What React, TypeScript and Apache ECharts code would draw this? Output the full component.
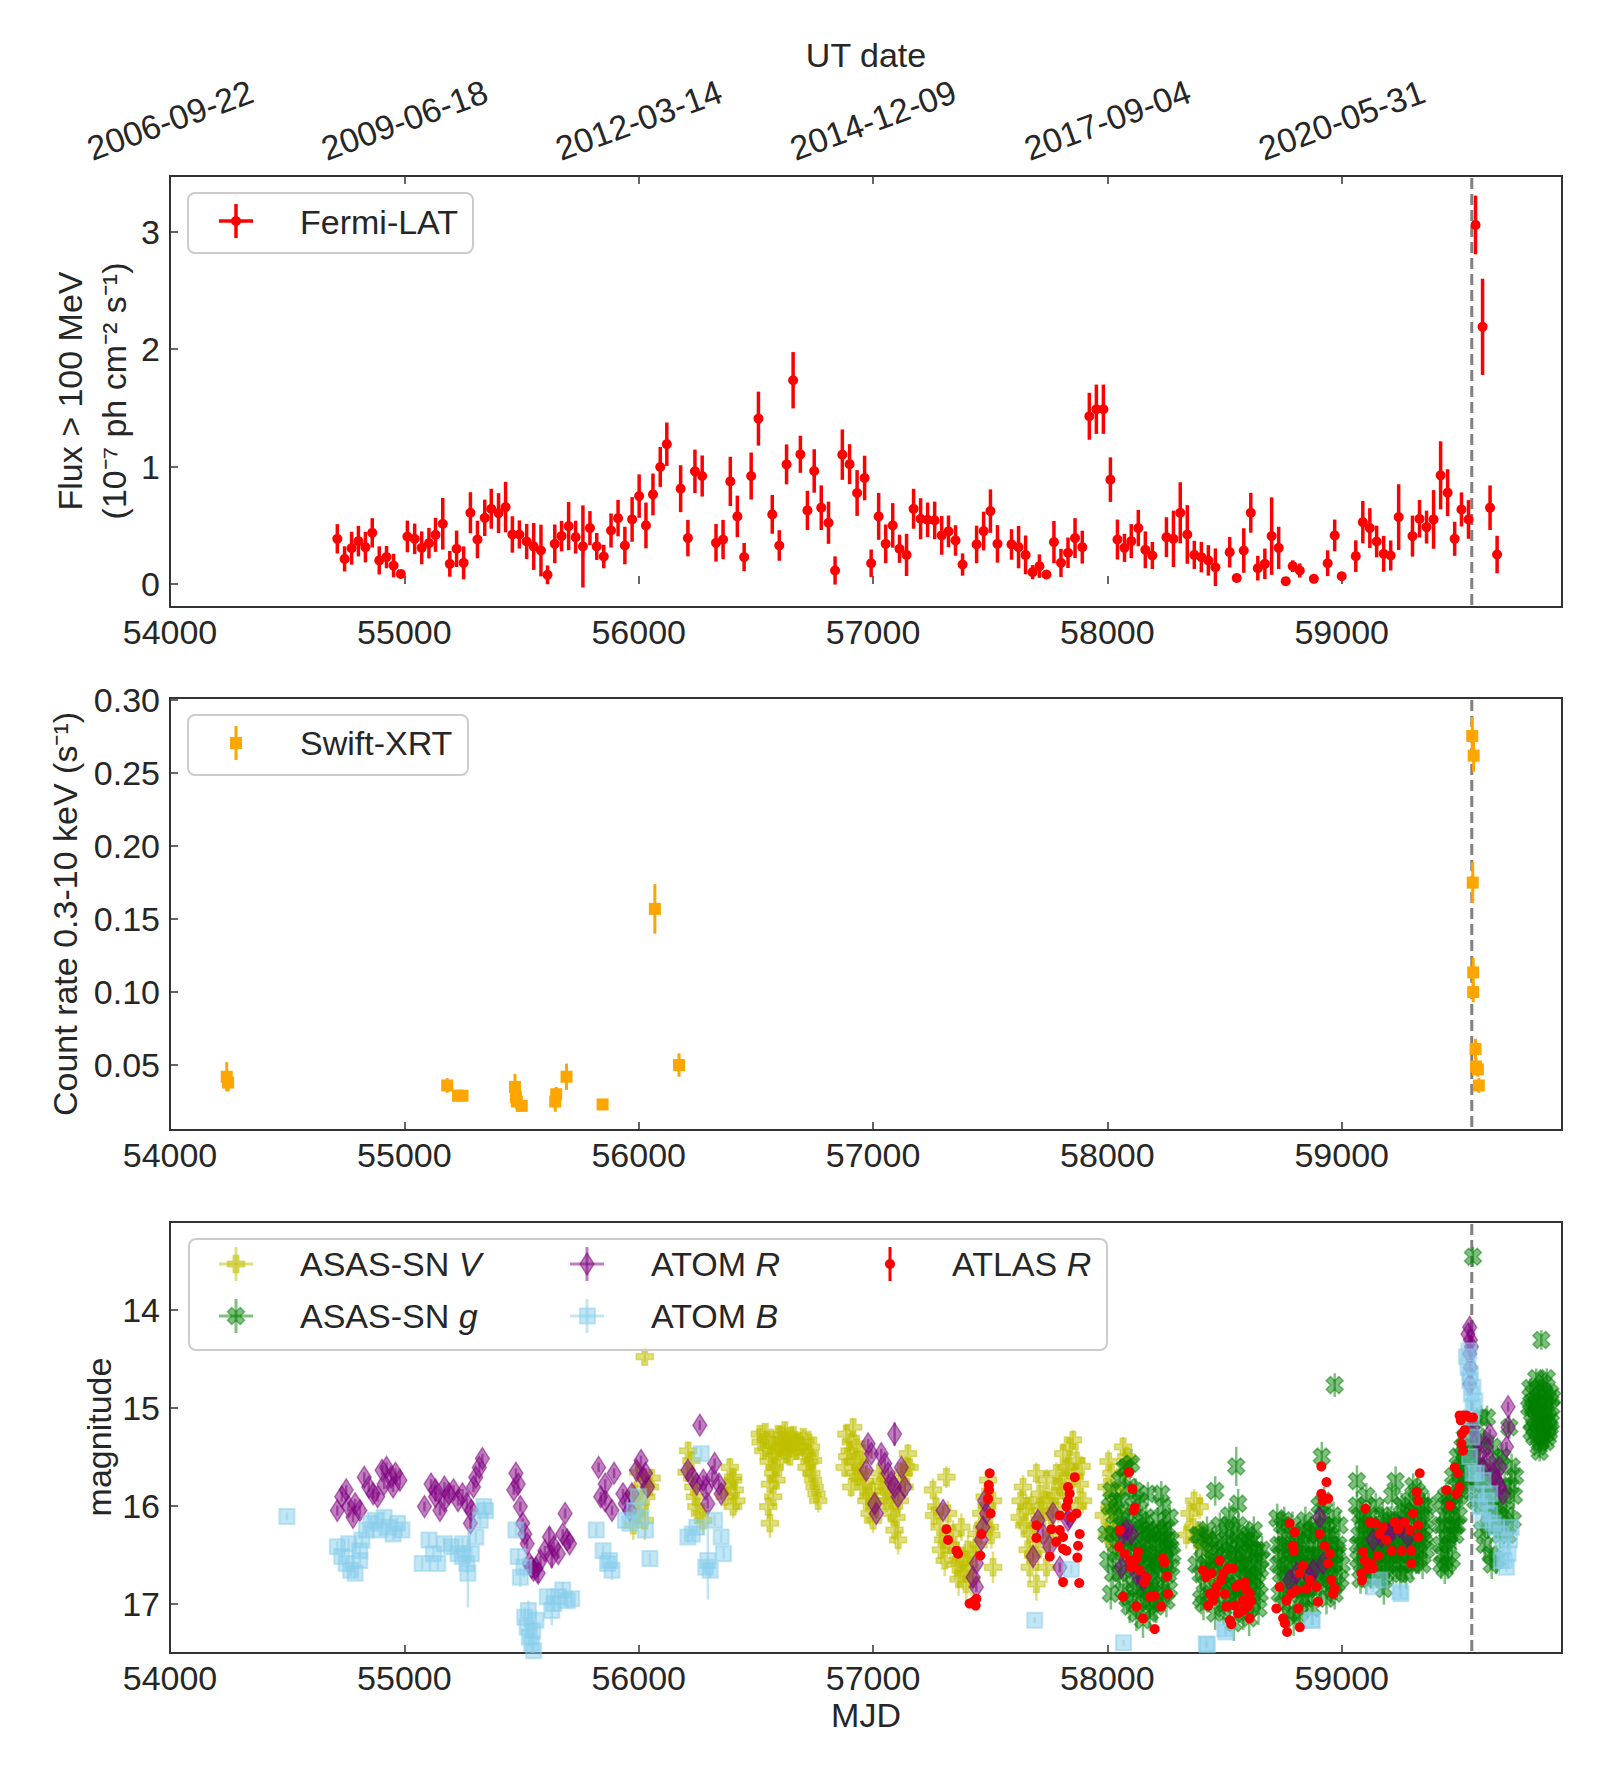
import React, { useEffect, useRef } from 'react';
import * as echarts from 'echarts';

// ---------- axes ----------
const X_MIN = 54000;
const X_MAX = 59940;
const X_TICKS = [54000, 55000, 56000, 57000, 58000, 59000];
const DATE_LABELS = ['2006-09-22', '2009-06-18', '2012-03-14', '2014-12-09', '2017-09-04', '2020-05-31'];
const EVENT_MJD = 59555;

const FERMI_Y_MIN = -0.197;
const FERMI_Y_MAX = 3.475;
const FERMI_Y_TICKS = [0, 1, 2, 3];
const SWIFT_Y_MIN = 0.0055;
const SWIFT_Y_MAX = 0.3015;
const SWIFT_Y_TICKS = [0.05, 0.1, 0.15, 0.2, 0.25, 0.3];
const MAG_MIN = 13.106;
const MAG_MAX = 17.504;
const MAG_TICKS = [14, 15, 16, 17];

// ---------- data: [MJD, value, error] ----------
const FERMI = [
  [54714,0.384,0.125],[54745,0.213,0.107],[54775,0.304,0.14],[54804,0.364,0.13],[54834,0.313,0.13],[54863,0.435,0.125],[54893,0.2,0.12],[54924,0.228,0.095],[54954,0.156,0.1],[54985,0.085,0.02],
  [55013,0.404,0.135],[55044,0.384,0.13],[55074,0.307,0.14],[55105,0.347,0.13],[55133,0.418,0.145],[55164,0.512,0.22],[55194,0.171,0.11],[55223,0.299,0.155],[55253,0.179,0.14],[55282,0.606,0.175],
  [55312,0.378,0.16],[55343,0.563,0.155],[55371,0.64,0.17],[55402,0.603,0.17],[55432,0.654,0.215],[55461,0.421,0.155],[55491,0.421,0.12],[55522,0.361,0.15],[55552,0.319,0.2],[55583,0.284,0.22],
  [55611,0.077,0.08],[55642,0.341,0.165],[55671,0.407,0.13],[55701,0.492,0.205],[55731,0.398,0.14],[55762,0.319,0.35],[55792,0.475,0.145],[55821,0.319,0.115],[55851,0.233,0.1],[55882,0.455,0.145],
  [55912,0.56,0.155],[55941,0.327,0.16],[55972,0.549,0.19],[56002,0.748,0.185],[56031,0.498,0.195],[56061,0.762,0.178],[56092,0.996,0.17],[56120,1.19,0.185],[56179,0.811,0.2],[56210,0.39,0.155],
  [56240,0.959,0.185],[56271,0.919,0.175],[56330,0.35,0.16],[56360,0.378,0.167],[56391,0.873,0.21],[56421,0.575,0.177],[56450,0.228,0.12],[56480,0.919,0.2],[56511,1.408,0.23],[56570,0.592,0.165],
  [56600,0.327,0.13],[56631,1.018,0.17],[56659,1.735,0.24],[56690,1.104,0.158],[56720,0.626,0.167],[56749,0.962,0.185],[56779,0.649,0.19],[56810,0.521,0.18],[56838,0.114,0.12],[56869,1.101,0.215],
  [56900,1.02,0.17],[56932,0.774,0.195],[56964,0.902,0.19],[56992,0.176,0.117],[57024,0.575,0.2],[57054,0.341,0.165],[57084,0.498,0.19],[57113,0.299,0.12],[57143,0.247,0.18],[57173,0.64,0.17],
  [57203,0.555,0.175],[57233,0.546,0.147],[57263,0.541,0.16],[57293,0.413,0.165],[57322,0.447,0.135],[57352,0.37,0.13],[57382,0.165,0.095],[57442,0.336,0.16],[57472,0.45,0.165],[57501,0.62,0.185],
  [57531,0.341,0.16],[57591,0.336,0.13],[57621,0.313,0.18],[57651,0.247,0.165],[57681,0.1,0.06],[57710,0.151,0.1],[57740,0.08,0.03],[57772,0.356,0.18],[57802,0.179,0.12],[57832,0.265,0.13],
  [57862,0.39,0.17],[57893,0.313,0.14],[57923,1.428,0.2],[57953,1.488,0.21],[57983,1.488,0.21],[58013,0.888,0.19],[58043,0.378,0.17],[58073,0.307,0.12],[58102,0.364,0.145],[58132,0.475,0.155],
  [58162,0.29,0.157],[58192,0.242,0.115],[58252,0.398,0.17],[58282,0.384,0.24],[58311,0.606,0.26],[58341,0.421,0.25],[58371,0.247,0.12],[58401,0.228,0.13],[58431,0.2,0.13],[58461,0.142,0.16],
  [58522,0.27,0.13],[58552,0.051,0.02],[58582,0.284,0.19],[58612,0.606,0.17],[58642,0.134,0.105],[58672,0.171,0.13],[58701,0.407,0.33],[58731,0.307,0.18],[58761,0.023,0.02],[58791,0.151,0.05],
  [58821,0.114,0.06],[58881,0.043,0.02],[58940,0.176,0.11],[58970,0.413,0.135],[59000,0.065,0.02],[59060,0.236,0.135],[59090,0.526,0.18],[59120,0.475,0.17],[59149,0.361,0.135],[59179,0.256,0.153],
  [59209,0.242,0.128],[59243,0.569,0.28],[59302,0.407,0.175],[59332,0.555,0.16],[59362,0.484,0.14],[59392,0.549,0.25],[59422,0.925,0.29],[59452,0.777,0.2],[59482,0.384,0.145],[59511,0.634,0.145],
  [59541,0.549,0.165],[59571,3.058,0.25],[59601,2.19,0.41],[59633,0.649,0.19],[59663,0.25,0.16],
];

const SWIFT = [
  [54242,0.042,0.01],[54248,0.038,0.006],[55183,0.036,0.005],[55229,0.029,0.003],[55248,0.029,0.003],[55472,0.035,0.009],[55476,0.028,0.006],[55480,0.025,0.005],
  [55501,0.022,0.003],[55644,0.025,0.007],[55648,0.03,0.005],[55692,0.042,0.009],[55846,0.023,0.002],[56069,0.157,0.017],[56172,0.05,0.008],
  [59557,0.2755,0.013],[59563,0.262,0.011],[59559,0.175,0.014],[59561,0.1135,0.01],[59561,0.1,0.007],[59571,0.061,0.007],[59573,0.049,0.006],[59581,0.047,0.005],[59585,0.036,0.005],
];

const ASASSN_V = [
  [56026,14.48,0.06],
  [55977,16.2,0.15],[55983,15.88,0.12],[55991,16.08,0.14],[55998,15.66,0.1],[56005,16.01,0.12],[56019,15.78,0.11],[56026,16.15,0.2],[56033,15.91,0.12],[56048,15.81,0.1],[56055,15.72,0.1],
  [56204,15.66,0.1],[56211,15.44,0.09],[56225,15.54,0.1],[56233,15.81,0.12],[56240,15.91,0.12],[56246,16.01,0.14],[56261,16.08,0.15],[56275,16.15,0.15],
  [56368,15.91,0.12],[56382,15.81,0.1],[56389,15.61,0.1],[56403,15.71,0.1],[56403,16.01,0.12],[56410,15.84,0.11],[56417,15.95,0.12],[56403,15.74,0.1],
  [56517,15.27,0.08],[56531,15.44,0.09],[56545,15.33,0.08],[56553,16.01,0.12],[56560,15.78,0.1],[56560,16.18,0.15],[56567,15.47,0.09],[56574,15.91,0.12],[56574,15.67,0.1],[56581,15.61,0.1],
  [56588,15.74,0.1],[56595,15.27,0.08],[56602,15.54,0.09],[56609,15.33,0.08],[56617,15.4,0.08],[56624,15.23,0.08],[56631,15.47,0.09],[56638,15.3,0.08],[56645,15.5,0.09],[56652,15.37,0.08],
  [56666,15.33,0.08],[56674,15.44,0.09],
  [56520,15.35,0.08],[56540,15.25,0.08],[56555,15.55,0.09],[56570,15.38,0.08],[56585,15.45,0.09],[56600,15.4,0.08],[56612,15.28,0.08],[56628,15.35,0.08],[56640,15.42,0.08],[56660,15.28,0.08],
  [56678,15.35,0.08],[56690,15.4,0.08],[56710,15.45,0.09],[56728,15.55,0.09],[56735,15.4,0.09],
  [56702,15.3,0.08],[56716,15.61,0.1],[56723,15.33,0.08],[56730,15.47,0.09],[56737,15.67,0.1],[56744,15.54,0.09],[56744,15.74,0.1],[56751,15.81,0.1],[56759,15.88,0.11],[56766,15.95,0.12],
  [56879,15.61,0.1],[56886,15.27,0.09],[56900,15.44,0.09],[56907,15.81,0.1],[56915,15.2,0.09],[56922,15.67,0.1],[56929,15.37,0.09],[56943,15.54,0.1],[56957,15.81,0.11],[56957,15.47,0.1],
  [56971,15.95,0.12],[56986,16.08,0.12],[57000,16.15,0.13],[57014,16.01,0.12],[57028,15.67,0.1],[57043,15.81,0.11],[57057,15.95,0.12],[57078,16.08,0.13],[57092,16.25,0.14],[57100,16.12,0.13],
  [57107,16.35,0.15],[57114,15.95,0.12],[57128,15.67,0.1],[57135,15.81,0.11],[57149,15.47,0.1],[57156,15.61,0.1],
  [56890,15.5,0.1],[56905,15.35,0.1],[56920,15.55,0.1],[56935,15.7,0.1],[56950,15.65,0.1],[56965,15.75,0.11],[56980,15.9,0.11],[56995,15.85,0.11],[57010,15.95,0.12],[57035,15.75,0.11],
  [57065,15.85,0.11],[57085,15.95,0.12],[57120,15.75,0.11],[57140,15.6,0.1],
  [57256,15.84,0.12],[57270,16.01,0.13],[57284,16.22,0.14],[57299,16.35,0.15],[57306,16.56,0.16],[57313,15.71,0.11],[57320,16.08,0.13],[57341,16.29,0.14],[57356,16.46,0.15],[57370,16.59,0.16],
  [57377,16.22,0.14],[57384,16.69,0.17],[57398,16.8,0.18],[57412,16.63,0.16],[57427,16.49,0.15],[57441,16.29,0.14],[57462,16.08,0.13],[57476,15.91,0.12],[57491,15.74,0.11],[57498,16.22,0.14],
  [57512,15.95,0.12],[57512,16.63,0.16],
  [57260,16.1,0.13],[57290,16.45,0.15],[57330,16.4,0.15],[57350,16.6,0.16],[57365,16.75,0.17],[57390,16.55,0.16],[57405,16.45,0.15],[57420,16.75,0.17],[57450,16.4,0.15],[57470,16.2,0.14],
  [57485,16.0,0.13],[57505,16.3,0.14],
  [57626,16.12,0.13],[57640,15.81,0.12],[57654,16.01,0.13],[57669,16.29,0.14],[57669,16.63,0.16],[57683,16.49,0.15],[57697,15.67,0.11],[57697,16.8,0.17],[57711,15.88,0.12],[57725,16.12,0.13],
  [57740,15.74,0.11],[57740,16.63,0.16],[57754,15.95,0.12],[57768,16.29,0.14],[57782,15.67,0.11],[57797,15.81,0.12],[57811,15.47,0.1],[57825,15.61,0.11],[57839,15.4,0.1],[57853,15.33,0.1],
  [57868,15.54,0.11],[57882,15.78,0.12],[57896,15.95,0.13],
  [57630,15.95,0.12],[57645,16.2,0.13],[57660,16.45,0.15],[57675,16.0,0.13],[57690,16.2,0.13],[57705,16.45,0.15],[57715,16.05,0.13],[57730,15.95,0.12],[57745,16.35,0.14],[57760,16.1,0.13],
  [57775,15.9,0.12],[57790,16.05,0.13],[57805,15.75,0.12],[57820,15.85,0.12],[57835,15.6,0.11],[57860,15.7,0.11],[57875,16.0,0.13],[57890,15.6,0.11],
  [57996,15.81,0.12],[58010,16.01,0.13],[58017,15.67,0.12],[58024,16.22,0.14],[58038,16.42,0.15],[58067,15.4,0.1],[58081,15.5,0.11],
  [57985,16.1,0.13],[58000,16.3,0.14],[58005,15.55,0.12],[58030,16.05,0.13],[58045,15.85,0.12],[58075,15.65,0.12],[58090,15.55,0.11],
  [58337,16.3,0.14],[58351,16.08,0.13],[58366,16.22,0.14],[58370,15.95,0.12],[58380,16.35,0.15],[58394,16.01,0.13],[58408,16.29,0.14],[58423,16.42,0.15],[58440,16.6,0.15],[58460,16.75,0.16],
];

const ASASSN_G = [
  [57996,16.29,0.14],[58010,16.01,0.12],[58017,15.85,0.12],[58024,16.29,0.14],[58024,16.69,0.15],[58038,15.95,0.12],[58038,16.49,0.14],[58053,15.74,0.11],[58053,16.69,0.15],[58060,16.2,0.13],
  [58067,16.12,0.13],[58067,16.86,0.16],[58074,15.62,0.2],[58081,15.61,0.11],[58081,16.63,0.15],[58088,16.35,0.14],[58095,15.81,0.12],[58095,17.03,0.17],[58102,15.57,0.15],[58109,16.01,0.12],
  [58109,16.8,0.16],[58117,16.45,0.14],[58124,16.29,0.14],[58124,17.1,0.18],[58131,16.6,0.15],[58138,16.49,0.14],[58138,15.95,0.12],[58145,16.15,0.13],[58152,16.69,0.15],[58152,16.29,0.14],
  [58152,17.17,0.18],[58159,16.5,0.14],[58166,16.9,0.16],[58166,16.12,0.13],[58173,15.88,0.12],[58181,16.97,0.17],[58181,16.49,0.14],[58181,17.1,0.18],[58188,16.3,0.14],[58195,16.8,0.16],
  [58195,16.29,0.14],[58202,16.6,0.15],[58209,16.56,0.15],[58209,17.03,0.17],[58216,16.15,0.13],[58223,16.29,0.14],[58230,15.88,0.13],[58238,16.01,0.12],[58238,16.9,0.16],[58245,16.45,0.14],
  [58252,16.22,0.13],[58252,16.97,0.17],[58259,16.7,0.15],[58266,16.42,0.14],[58266,16.12,0.13],[58273,16.63,0.15],
  [58003,16.55,0.14],[58015,16.9,0.16],[58030,16.1,0.13],[58045,16.35,0.14],[58058,15.95,0.13],[58070,16.45,0.14],[58085,16.95,0.16],[58092,16.15,0.13],[58100,16.4,0.14],[58113,16.65,0.15],
  [58120,15.85,0.13],[58127,16.85,0.16],[58134,16.2,0.13],[58142,16.95,0.16],[58148,16.45,0.14],[58156,16.85,0.16],[58163,16.35,0.14],[58170,16.65,0.15],[58177,16.25,0.14],[58185,16.75,0.15],
  [58192,16.55,0.15],[58198,17.0,0.17],[58205,16.4,0.14],[58212,16.85,0.16],[58220,16.6,0.15],[58227,16.4,0.14],[58234,16.7,0.15],[58242,16.25,0.14],[58249,16.55,0.15],[58256,16.35,0.14],
  [58263,16.85,0.16],[58270,16.35,0.14],[58277,16.5,0.15],
  [58380,16.6,0.15],[58394,16.3,0.14],[58400,16.95,0.16],[58410,17.0,0.17],[58420,16.6,0.15],[58430,16.35,0.14],[58440,16.9,0.16],[58445,16.4,0.14],[58455,16.65,0.15],[58460,17.1,0.17],
  [58460,15.85,0.15],[58470,16.5,0.14],[58480,16.2,0.13],[58490,16.8,0.15],[58490,16.45,0.14],[58500,17.0,0.17],[58505,16.7,0.15],[58510,16.4,0.14],[58515,16.8,0.15],[58520,16.1,0.13],
  [58525,16.95,0.16],[58530,16.7,0.15],[58535,16.25,0.14],[58540,17.2,0.18],[58545,16.55,0.14],[58550,16.5,0.14],[58550,15.6,0.2],[58558,15.98,0.15],[58560,16.2,0.13],[58565,16.6,0.15],
  [58570,16.9,0.16],[58575,16.4,0.14],[58580,17.1,0.17],[58585,16.75,0.15],[58590,16.6,0.15],[58595,16.95,0.16],[58600,16.3,0.14],[58605,17.15,0.18],[58610,16.8,0.15],[58615,16.45,0.14],
  [58620,17.0,0.17],[58625,16.25,0.14],[58630,16.5,0.14],[58635,16.85,0.16],[58640,16.7,0.15],[58650,16.9,0.16],[58655,16.55,0.15],
  [58385,16.3,0.14],[58398,16.7,0.15],[58405,16.45,0.14],[58415,16.8,0.16],[58425,16.25,0.14],[58435,16.65,0.15],[58450,16.55,0.15],[58465,16.35,0.14],[58475,16.85,0.16],[58485,16.6,0.15],
  [58495,17.05,0.17],[58508,16.25,0.14],[58518,16.55,0.15],[58528,16.4,0.14],[58538,16.85,0.16],[58548,16.95,0.16],[58555,16.35,0.14],[58563,16.85,0.16],[58572,16.65,0.15],[58583,16.5,0.15],
  [58592,16.35,0.14],[58598,16.7,0.15],[58612,16.6,0.15],[58618,16.35,0.14],[58628,16.75,0.15],[58638,16.45,0.14],[58645,17.05,0.17],[58652,16.65,0.15],[58660,16.45,0.14],
  [58725,16.13,0.15],[58730,16.4,0.14],[58735,16.9,0.16],[58740,16.7,0.15],[58745,16.2,0.14],[58750,17.0,0.17],[58755,16.15,0.14],[58760,16.3,0.14],[58765,16.75,0.15],[58770,16.6,0.15],
  [58775,17.1,0.17],[58780,16.9,0.16],[58785,16.45,0.14],[58790,16.2,0.14],[58795,17.15,0.18],[58800,16.5,0.14],[58805,16.85,0.15],[58810,16.8,0.15],[58815,16.35,0.14],[58820,17.1,0.17],
  [58825,16.6,0.15],[58830,16.4,0.14],[58835,16.95,0.16],[58840,16.7,0.15],[58845,16.15,0.14],[58850,16.95,0.16],[58855,16.5,0.14],[58860,16.3,0.14],[58865,16.75,0.15],[58870,16.6,0.15],
  [58875,17.05,0.17],[58880,16.85,0.16],[58885,16.4,0.14],[58890,16.2,0.14],[58895,16.65,0.15],[58900,16.5,0.14],[58905,16.0,0.14],[58910,16.8,0.15],[58915,15.5,0.15],[58920,16.1,0.14],
  [58925,15.95,0.14],[58930,16.4,0.14],[58935,16.95,0.16],[58940,16.7,0.15],[58945,16.25,0.14],[58950,16.3,0.14],[58955,16.85,0.15],[58960,16.6,0.15],[58965,16.1,0.14],[58970,16.9,0.16],
  [58970,14.77,0.12],[58975,16.5,0.15],[58980,16.45,0.14],[58990,16.2,0.14],[59000,16.6,0.15],
  [58728,16.6,0.15],[58738,16.5,0.14],[58748,16.4,0.14],[58758,16.65,0.15],[58768,16.85,0.16],[58778,16.45,0.14],[58788,16.7,0.15],[58798,16.35,0.14],[58808,16.55,0.15],[58818,16.5,0.14],
  [58828,16.85,0.16],[58838,16.25,0.14],[58848,16.55,0.15],[58858,16.85,0.16],[58868,16.25,0.14],[58878,16.5,0.14],[58888,16.65,0.15],[58898,16.3,0.14],[58908,16.55,0.15],[58918,16.7,0.15],
  [58928,16.2,0.14],[58938,16.55,0.15],[58948,16.75,0.15],[58958,16.4,0.14],[58968,16.6,0.15],[58978,16.8,0.16],[58985,16.4,0.14],[58995,16.75,0.15],
  [59065,16.0,0.14],[59065,15.75,0.16],[59070,16.55,0.15],[59075,16.3,0.14],[59080,16.75,0.15],[59085,16.6,0.15],[59090,16.15,0.14],[59095,16.2,0.14],[59100,16.45,0.14],[59105,15.9,0.13],
  [59105,16.75,0.15],[59110,16.35,0.14],[59115,16.5,0.14],[59120,16.1,0.14],[59125,16.7,0.15],[59130,16.45,0.14],[59135,16.3,0.14],[59140,16.6,0.15],[59145,16.0,0.13],[59150,16.45,0.14],
  [59155,16.6,0.15],[59160,16.2,0.14],[59165,16.4,0.14],[59170,16.75,0.15],[59175,16.1,0.14],[59180,16.85,0.16],[59185,16.7,0.15],[59190,16.35,0.14],[59195,16.3,0.14],[59200,16.6,0.15],
  [59205,16.5,0.14],[59210,16.15,0.14],[59215,15.9,0.13],[59220,16.45,0.14],[59225,16.2,0.14],[59230,15.75,0.15],[59235,16.6,0.15],[59240,16.3,0.14],[59245,16.4,0.14],[59250,16.7,0.15],
  [59255,16.0,0.13],[59260,16.5,0.14],[59265,16.3,0.14],[59270,16.05,0.14],[59275,16.7,0.15],[59280,16.4,0.14],[59285,16.5,0.14],[59290,15.95,0.13],[59295,16.1,0.14],[59300,16.6,0.15],
  [59305,15.8,0.13],[59310,16.3,0.14],[59315,16.4,0.14],[59320,15.85,0.13],[59325,16.2,0.14],[59330,16.55,0.15],[59335,15.9,0.13],[59340,16.25,0.14],[59345,16.6,0.15],[59350,16.0,0.13],
  [59355,16.3,0.14],[59360,16.45,0.14],[59370,16.0,0.13],
  [59068,16.4,0.14],[59078,16.1,0.14],[59088,16.4,0.14],[59098,16.6,0.15],[59108,16.2,0.14],[59118,16.65,0.15],[59128,16.25,0.14],[59138,16.5,0.14],[59148,16.25,0.14],[59158,16.45,0.14],
  [59168,16.55,0.15],[59178,16.35,0.14],[59188,16.5,0.14],[59198,16.15,0.14],[59208,16.4,0.14],[59218,16.65,0.15],[59228,16.45,0.14],[59238,16.15,0.14],[59248,16.5,0.14],[59258,16.25,0.14],
  [59268,16.6,0.15],[59278,16.2,0.14],[59288,16.35,0.14],[59298,16.45,0.14],[59308,16.05,0.14],[59318,16.55,0.15],[59328,16.4,0.14],[59338,16.1,0.14],[59348,16.35,0.14],[59358,16.15,0.14],
  [59420,16.2,0.14],[59425,16.6,0.15],[59430,15.95,0.14],[59435,16.2,0.14],[59440,16.65,0.15],[59445,15.9,0.13],[59450,16.35,0.14],[59455,16.4,0.14],[59460,16.0,0.14],[59465,16.0,0.13],
  [59470,16.55,0.15],[59475,15.7,0.13],[59480,16.2,0.14],[59485,16.3,0.14],[59490,15.8,0.13],[59495,15.5,0.12],[59500,16.1,0.14],[59505,15.9,0.13],[59510,15.6,0.13],[59515,15.4,0.12],
  [59520,15.75,0.13],[59525,15.3,0.12],[59530,15.7,0.13],
  [59422,16.4,0.14],[59432,16.5,0.14],[59442,16.1,0.14],[59452,16.6,0.15],[59462,16.3,0.14],[59472,16.15,0.14],[59482,15.95,0.13],[59492,16.2,0.14],[59502,15.65,0.13],[59512,15.85,0.13],
  [59522,15.55,0.13],[59532,15.45,0.12],
  [59560,13.46,0.1],
  [59550,15.2,0.12],[59565,15.5,0.13],[59575,15.8,0.13],[59585,15.3,0.12],[59595,15.1,0.12],[59600,16.0,0.14],[59605,15.6,0.13],[59610,16.4,0.15],[59615,15.9,0.13],[59620,15.1,0.12],
  [59625,16.2,0.14],[59635,16.5,0.15],[59640,16.6,0.15],[59645,15.4,0.12],[59655,15.7,0.13],[59660,16.55,0.15],[59665,16.0,0.14],[59675,16.3,0.14],[59685,15.5,0.13],[59695,15.8,0.13],
  [59705,16.1,0.14],[59715,15.2,0.12],[59725,15.6,0.13],[59735,15.9,0.13],
  [59555,15.4,0.12],[59570,15.95,0.13],[59580,15.6,0.13],[59590,15.75,0.13],[59598,16.25,0.14],[59608,15.35,0.12],[59618,15.7,0.13],[59628,15.85,0.13],[59638,16.05,0.14],[59648,15.9,0.13],
  [59658,16.2,0.14],[59668,15.55,0.13],[59678,16.1,0.14],[59690,16.2,0.14],[59700,15.95,0.13],[59710,16.3,0.14],[59720,15.8,0.13],[59730,16.15,0.14],[59740,15.7,0.13],
  [59805,14.8,0.1],[59810,15.25,0.1],[59815,15.0,0.1],[59820,15.1,0.1],[59825,15.2,0.1],[59830,14.7,0.1],[59835,14.9,0.1],[59840,15.4,0.1],[59845,15.1,0.1],[59850,15.35,0.1],
  [59852,14.31,0.1],[59855,15.3,0.1],[59860,14.75,0.1],[59865,14.85,0.1],[59870,15.15,0.1],[59875,15.05,0.1],[59880,15.3,0.1],[59885,15.25,0.1],[59890,14.85,0.1],[59895,15.0,0.1],
  [59800,15.0,0.1],[59808,14.95,0.1],[59812,15.15,0.1],[59818,14.85,0.1],[59822,15.3,0.1],[59828,14.95,0.1],[59833,15.25,0.1],[59838,15.05,0.1],[59842,14.8,0.1],[59848,14.95,0.1],
  [59853,15.15,0.1],[59858,15.05,0.1],[59862,15.25,0.1],[59868,14.95,0.1],[59872,15.35,0.1],[59878,14.9,0.1],[59883,15.1,0.1],[59888,15.2,0.1],[59893,15.15,0.1],[59898,14.9,0.1],
  [59845,15.45,0.1],[59875,14.7,0.1],
];

const ATOM_R = [
  [54714,16.05,0.05],[54733,15.91,0.05],[54752,15.84,0.05],[54762,16.01,0.05],[54781,16.12,0.05],[54790,15.98,0.05],[54810,16.05,0.05],[54829,15.71,0.05],[54848,15.81,0.05],[54867,15.88,0.05],
  [54886,15.91,0.05],[54905,15.64,0.05],[54914,15.78,0.05],[54924,15.61,0.05],[54943,15.71,0.05],[54952,15.81,0.05],[54962,15.67,0.05],[54981,15.74,0.05],
  [55086,16.01,0.05],[55114,15.78,0.05],[55133,15.91,0.05],[55133,15.84,0.05],[55152,16.05,0.05],[55171,15.81,0.05],[55171,15.95,0.05],[55190,15.88,0.05],[55210,15.84,0.05],[55229,15.95,0.05],
  [55248,15.88,0.05],[55267,15.98,0.05],[55282,16.18,0.06],[55286,16.05,0.05],[55295,15.81,0.05],[55305,15.71,0.05],[55320,15.61,0.05],[55333,15.52,0.05],
  [55467,15.84,0.05],[55476,15.67,0.05],[55486,15.78,0.05],[55495,16.01,0.05],[55505,16.18,0.05],[55514,16.29,0.05],[55524,16.39,0.05],[55533,16.59,0.05],[55543,16.63,0.05],[55552,16.66,0.08],
  [55562,16.64,0.05],[55571,16.69,0.1],[55581,16.56,0.05],[55600,16.46,0.05],[55619,16.32,0.1],[55629,16.52,0.12],[55638,16.42,0.05],[55657,16.49,0.05],[55676,16.29,0.05],[55686,16.08,0.05],
  [55695,16.35,0.05],[55705,16.39,0.05],
  [55829,15.61,0.05],[55838,15.91,0.05],[55857,15.78,0.05],[55857,15.95,0.05],[55886,16.05,0.05],[55895,15.67,0.05],[55933,15.88,0.05],[55943,15.98,0.05],[55962,16.05,0.05],[55971,15.88,0.05],
  [55991,15.64,0.05],[56010,15.54,0.05],[56019,15.71,0.05],[56029,15.67,0.05],[56038,15.81,0.05],
  [56210,15.64,0.05],[56229,15.71,0.05],[56248,15.78,0.05],[56261,15.18,0.05],[56276,15.74,0.05],[56286,15.83,0.05],[56295,15.98,0.05],[56314,15.71,0.05],[56324,15.57,0.05],[56343,15.78,0.05],
  [56352,15.88,0.05],
  [56971,15.64,0.05],[56979,15.37,0.05],[56993,15.47,0.05],[57007,15.98,0.05],[57014,16.08,0.05],[57035,15.47,0.05],[57050,15.57,0.05],[57064,15.67,0.05],[57078,15.76,0.05],[57092,15.81,0.05],
  [57092,15.27,0.12],[57107,15.91,0.05],[57121,15.61,0.05],[57135,15.81,0.05],
  [57299,16.05,0.05],[57427,16.73,0.05],[57441,16.59,0.05],[57441,16.83,0.05],[57462,16.35,0.05],[57469,16.22,0.05],[57476,15.95,0.05],[57484,16.08,0.05],
  [57683,16.52,0.05],[57704,16.15,0.05],[57725,16.29,0.05],[57754,16.42,0.05],[57768,16.08,0.05],[57797,16.63,0.05],[57832,16.15,0.05],[57839,16.12,0.05],
  [58060,16.63,0.05],[58067,16.29,0.05],[58081,16.25,0.05],[58102,16.29,0.05],[58124,16.69,0.05],[58152,16.76,0.05],
  [58778,16.76,0.05],[58807,16.69,0.05],[58863,16.73,0.05],[58878,16.66,0.05],[58906,16.12,0.05],[58920,16.59,0.05],
  [59134,16.35,0.05],[59169,16.32,0.05],[59198,16.29,0.05],[59219,16.25,0.05],[59248,16.22,0.05],[59283,16.32,0.05],
  [59539,14.25,0.05],[59546,14.18,0.05],[59549,14.31,0.05],[59553,14.38,0.05],[59546,14.45,0.05],[59549,14.59,0.05],[59546,14.76,0.05],[59560,15.2,0.05],[59575,15.33,0.05],[59589,15.47,0.05],
  [59603,15.61,0.05],[59617,15.4,0.05],[59632,15.54,0.05],[59632,15.27,0.05],[59646,15.67,0.05],[59660,15.74,0.05],[59674,15.61,0.05],[59674,15.81,0.05],[59688,15.88,0.05],[59703,15.4,0.05],
  [59710,14.99,0.05],[59710,15.2,0.05],
];

const ATOM_B = [
  [54499,16.11,0.04],
  [54714,16.42,0.06],[54733,16.52,0.06],[54752,16.59,0.06],[54762,16.39,0.06],[54771,16.66,0.06],[54790,16.69,0.06],[54810,16.46,0.06],[54810,16.56,0.06],[54819,16.35,0.06],[54838,16.25,0.06],
  [54857,16.18,0.06],[54876,16.15,0.06],[54895,16.25,0.06],[54914,16.12,0.06],[54933,16.22,0.06],[54952,16.29,0.06],[54971,16.18,0.06],[54990,16.25,0.06],
  [55076,16.59,0.06],[55105,16.35,0.06],[55124,16.49,0.06],[55143,16.59,0.06],[55171,16.39,0.06],[55200,16.42,0.06],[55229,16.49,0.06],[55248,16.39,0.06],[55248,16.52,0.06],[55267,16.59,0.1],
  [55271,16.69,0.35],[55286,16.49,0.08],[55305,16.32,0.06],[55324,16.15,0.06],[55339,16.01,0.06],[55347,16.05,0.06],
  [55476,16.25,0.06],[55486,16.52,0.08],[55495,16.73,0.1],[55510,16.63,0.1],
  [55514,17.14,0.1],[55524,17.24,0.1],[55529,17.07,0.1],[55533,17.34,0.1],[55543,17.41,0.1],[55548,17.28,0.1],[55552,17.48,0.1],[55562,17.17,0.1],
  [55610,16.93,0.08],[55629,17.07,0.15],[55638,17.0,0.08],[55657,16.93,0.08],[55676,16.86,0.08],[55695,16.97,0.08],[55714,16.95,0.08],
  [55819,16.25,0.06],[55848,16.46,0.06],[55867,16.59,0.06],[55876,16.56,0.06],[55886,16.66,0.1],
  [55943,16.15,0.06],[55962,16.18,0.06],[55981,16.05,0.06],[56000,15.91,0.06],[56010,16.12,0.06],[56029,16.25,0.06],[56048,16.54,0.06],
  [56210,16.32,0.06],[56229,16.29,0.06],[56248,16.22,0.06],[56267,15.47,0.06],[56286,16.63,0.06],[56295,16.56,0.4],[56305,16.66,0.08],[56324,16.15,0.06],[56352,16.32,0.06],[56362,16.49,0.06],
  [57690,17.17,0.03],[57846,16.65,0.05],[58069,17.4,0.03],[58422,17.41,0.05],[58427,17.42,0.03],[58501,17.26,0.05],[58506,17.29,0.05],[58871,17.17,0.05],[58875,17.17,0.05],
  [59134,16.83,0.05],[59163,16.76,0.05],[59248,16.88,0.05],[59253,16.9,0.05],
  [59532,14.48,0.05],[59539,14.59,0.05],[59543,14.42,0.05],[59546,14.72,0.05],[59549,14.65,0.05],[59553,14.86,0.05],[59560,14.99,0.05],[59560,14.79,0.05],[59568,14.93,0.05],
  [59553,15.1,0.05],[59556,15.3,0.05],
  [59546,15.5,0.05],[59560,15.67,0.05],[59575,15.88,0.05],[59575,15.67,0.05],[59589,16.01,0.05],[59603,16.15,0.05],[59603,15.74,0.05],[59617,15.95,0.05],[59632,16.08,0.05],[59632,15.88,0.05],
  [59646,16.18,0.05],[59660,16.22,0.05],[59681,16.29,0.05],[59681,16.56,0.05],[59688,16.42,0.05],[59695,16.56,0.05],[59703,16.63,0.05],[59710,16.49,0.05],[59717,16.35,0.05],[59724,16.22,0.05],
];

const ATLAS_R = [
  [57313,16.24,0.03],[57320,16.35,0.03],[57356,16.46,0.03],[57363,16.49,0.03],[57412,17.0,0.04],[57429,16.98,0.04],[57438,17.02,0.04],[57441,16.95,0.04],[57458,16.51,0.03],[57462,16.29,0.03],
  [57491,15.93,0.03],[57494,15.79,0.03],[57495,15.84,0.03],[57498,15.67,0.03],[57502,16.08,0.03],
  [57697,16.2,0.03],[57697,16.33,0.03],[57754,16.52,0.03],[57761,16.24,0.03],[57782,16.37,0.03],[57797,16.25,0.03],[57797,16.1,0.03],[57811,16.32,0.03],[57811,16.44,0.03],[57811,16.78,0.04],
  [57825,16.01,0.03],[57825,16.46,0.03],[57832,15.81,0.03],[57839,15.88,0.03],[57832,15.95,0.03],[57846,16.12,0.03],[57861,15.71,0.03],[57868,16.08,0.03],[57872,16.53,0.03],[57875,16.41,0.03],
  [57882,16.29,0.03],[57880,16.79,0.04],
  [58050,16.42,0.03],[58053,16.25,0.03],[58067,16.93,0.04],[58074,16.49,0.03],[58092,15.66,0.03],[58095,16.56,0.03],[58102,16.63,0.03],[58107,15.83,0.03],[58109,16.59,0.03],[58112,16.05,0.03],
  [58117,16.02,0.03],[58124,17.03,0.04],[58124,16.54,0.03],[58131,16.47,0.03],[58138,16.66,0.03],[58152,17.15,0.04],[58159,16.78,0.04],[58166,16.73,0.03],[58181,16.93,0.04],[58202,16.92,0.04],
  [58202,17.26,0.04],[58230,17.03,0.04],[58238,16.54,0.03],[58245,16.58,0.03],[58255,16.72,0.03],[58259,16.9,0.04],
  [58408,16.66,0.03],[58422,16.73,0.03],[58430,17.02,0.04],[58437,16.9,0.04],[58444,16.69,0.03],[58451,16.97,0.04],[58458,16.9,0.04],[58465,16.83,0.03],[58479,16.56,0.03],[58486,16.76,0.03],
  [58494,16.69,0.03],[58501,16.9,0.04],[58508,17.03,0.04],[58515,16.64,0.03],[58522,17.17,0.04],[58529,17.21,0.04],[58536,16.64,0.03],[58543,17.02,0.04],[58550,16.83,0.03],[58558,17.1,0.04],
  [58565,16.8,0.03],[58579,16.97,0.04],[58579,17.07,0.04],[58586,16.78,0.03],[58593,16.86,0.04],[58600,17.03,0.04],[58607,16.9,0.04],[58607,17.15,0.04],[58614,16.97,0.04],
  [58721,17.05,0.04],[58735,16.83,0.03],[58750,17.15,0.04],[58757,17.2,0.04],[58764,16.97,0.04],[58767,17.29,0.04],[58778,16.18,0.03],[58785,16.9,0.04],[58792,16.41,0.03],[58795,16.46,0.03],
  [58799,16.27,0.03],[58807,16.86,0.04],[58814,17.05,0.04],[58821,16.69,0.03],[58821,17.24,0.04],[58835,16.61,0.03],[58849,16.85,0.04],[58863,16.76,0.03],[58892,16.83,0.03],[58899,16.98,0.04],
  [58906,16.29,0.03],[58913,15.6,0.03],[58913,15.88,0.03],[58920,15.95,0.03],[58927,16.41,0.03],[58935,15.76,0.03],[58942,15.93,0.03],[58942,16.59,0.03],[58949,16.49,0.03],[58956,16.76,0.03],
  [58963,16.9,0.04],[58970,16.85,0.04],
  [59084,16.69,0.03],[59087,16.76,0.03],[59091,16.47,0.03],[59098,16.56,0.03],[59101,16.03,0.03],[59112,16.64,0.03],[59119,16.17,0.03],[59127,16.59,0.03],[59134,16.64,0.03],[59141,16.18,0.03],
  [59155,16.51,0.03],[59162,16.29,0.03],[59176,16.22,0.03],[59191,16.35,0.03],[59212,16.46,0.03],[59226,16.17,0.03],[59240,16.24,0.03],[59255,16.46,0.03],[59269,16.17,0.03],[59290,16.25,0.03],
  [59297,16.46,0.03],[59297,16.59,0.03],[59304,16.08,0.03],[59319,15.86,0.03],[59326,16.2,0.03],[59326,15.95,0.03],[59326,16.32,0.03],[59333,15.67,0.03],
  [59447,15.84,0.03],[59461,16.0,0.03],[59482,15.61,0.03],[59489,15.88,0.03],[59496,15.67,0.03],[59503,15.81,0.03],[59503,15.08,0.03],[59508,15.13,0.03],[59511,15.37,0.03],[59513,15.27,0.03],
  [59518,15.44,0.03],[59518,15.08,0.03],[59525,15.23,0.03],[59532,15.08,0.03],[59546,15.1,0.03],[59560,15.1,0.03],
];

// ---------- styling ----------
const FONT = "'Liberation Sans', Arial, Helvetica, sans-serif";
const TXT = '#262626';
const FS = 34;
const AXC = '#333333';

const C_RED = '#ff0000';
const C_ORANGE = '#ffa500';
const C_OLIVE = 'rgba(191,191,0,0.5)';
const C_GREEN = 'rgba(0,128,0,0.5)';
const C_PURPLE = 'rgba(128,0,128,0.5)';
const C_SKY = 'rgba(135,206,235,0.5)';

const PLUS_PATH = 'path://M3,0H6V3H9V6H6V9H3V6H0V3H3Z';
const X_PATH = 'path://M7.5,0L10,2.5L7.5,5L10,7.5L7.5,10L5,7.5L2.5,10L0,7.5L2.5,5L0,2.5L2.5,0L5,2.5Z';

function errBars(data: number[][], xi: number, yi: number, color: string, width: number) {
  return {
    type: 'custom', xAxisIndex: xi, yAxisIndex: yi, silent: true, clip: true,
    data, encode: { x: 0, y: 1 },
    renderItem: (params: any, api: any) => {
      const x = api.value(0), y = api.value(1), e = api.value(2);
      const a = api.coord([x, y - e]);
      const b = api.coord([x, y + e]);
      return { type: 'line', shape: { x1: a[0], y1: a[1], x2: b[0], y2: b[1] }, style: { stroke: color, lineWidth: width } };
    },
  };
}

function markers(data: number[][], xi: number, yi: number, symbol: string, size: any, fill: string, stroke: string, bw: number) {
  return {
    type: 'scatter', xAxisIndex: xi, yAxisIndex: yi, silent: true, clip: true,
    data: data.map((d) => [d[0], d[1]]),
    symbol, symbolSize: size,
    itemStyle: { color: fill, borderColor: stroke, borderWidth: bw, opacity: 1 },
    emphasis: { disabled: true },
  };
}

function eventLine(xi: number, yi: number, yMid: number) {
  return {
    type: 'custom', xAxisIndex: xi, yAxisIndex: yi, silent: true,
    data: [[EVENT_MJD, yMid]], encode: { x: 0, y: 1 },
    renderItem: (params: any, api: any) => {
      const p = api.coord([api.value(0), api.value(1)]);
      const cs = params.coordSys;
      return { type: 'line', shape: { x1: p[0], y1: cs.y + 2, x2: p[0], y2: cs.y + cs.height }, style: { stroke: '#808080', lineWidth: 3, lineDash: [11, 5] } };
    },
  };
}

const tickStyle = { color: AXC, width: 1.5 };
const labelBase = { fontSize: FS, fontFamily: FONT, color: TXT };

function bottomX(gridIndex: number) {
  return {
    type: 'value', gridIndex, position: 'bottom', min: X_MIN, max: X_MAX,
    axisLine: { show: false }, splitLine: { show: false },
    axisTick: { show: true, inside: true, length: 8, lineStyle: tickStyle, customValues: X_TICKS },
    axisLabel: { show: true, ...labelBase, margin: 8, customValues: X_TICKS, formatter: (v: number) => String(v) },
  };
}

function yAxisDef(gridIndex: number, min: number, max: number, ticks: number[], fmt: (v: number) => string, inverse = false) {
  return {
    type: 'value', gridIndex, min, max, inverse,
    axisLine: { show: false }, splitLine: { show: false },
    axisTick: { show: true, inside: true, length: 8, lineStyle: tickStyle, customValues: ticks },
    axisLabel: { show: true, ...labelBase, margin: 10, customValues: ticks, formatter: fmt },
  };
}

function plusPts(cx: number, cy: number, s: number) {
  const a = s / 6, b = s / 2;
  return [[cx - a, cy - b], [cx + a, cy - b], [cx + a, cy - a], [cx + b, cy - a], [cx + b, cy + a], [cx + a, cy + a], [cx + a, cy + b], [cx - a, cy + b], [cx - a, cy + a], [cx - b, cy + a], [cx - b, cy - a], [cx - a, cy - a]];
}
function xPts(cx: number, cy: number, s: number) {
  const base = [[7.5, 0], [10, 2.5], [7.5, 5], [10, 7.5], [7.5, 10], [5, 7.5], [2.5, 10], [0, 7.5], [2.5, 5], [0, 2.5], [2.5, 0], [5, 2.5]];
  return base.map(([x, y]) => [cx - s / 2 + (x * s) / 10, cy - s / 2 + (y * s) / 10]);
}

function legendText(x: number, y: number, name: string, ital?: string) {
  return {
    type: 'text', x, y, z: 101,
    style: {
      text: ital ? `{n|${name} }{i|${ital}}` : `{n|${name}}`,
      rich: {
        n: { fontSize: FS, fontFamily: FONT, fill: TXT },
        i: { fontSize: FS, fontFamily: FONT, fill: TXT, fontStyle: 'italic' },
      },
      verticalAlign: 'middle', align: 'left',
    },
  };
}

function crossLines(cx: number, cy: number, color: string, horiz: boolean, lw = 3) {
  const els: any[] = [
    { type: 'line', z: 101, shape: { x1: cx, y1: cy - 17, x2: cx, y2: cy + 17 }, style: { stroke: color, lineWidth: lw } },
  ];
  if (horiz) els.push({ type: 'line', z: 101, shape: { x1: cx - 17, y1: cy, x2: cx + 17, y2: cy }, style: { stroke: color, lineWidth: lw } });
  return els;
}

function buildGraphic() {
  const g: any[] = [];
  const box = (x: number, y: number, w: number, h: number) => ({
    type: 'rect', z: 100, shape: { x, y, width: w, height: h, r: 7 },
    style: { fill: 'rgba(255,255,255,0.8)', stroke: '#cccccc', lineWidth: 2 },
  });
  // legend 1
  g.push(box(188, 193, 285, 60));
  g.push(...crossLines(236, 221, C_RED, true, 3.5));
  g.push({ type: 'circle', z: 101, shape: { cx: 236, cy: 221, r: 5 }, style: { fill: C_RED } });
  g.push(legendText(300, 222, 'Fermi-LAT'));
  // legend 2
  g.push(box(188, 715, 280, 60));
  g.push(...crossLines(236, 743, C_ORANGE, false, 3));
  g.push({ type: 'rect', z: 101, shape: { x: 230, y: 737, width: 12, height: 12 }, style: { fill: C_ORANGE } });
  g.push(legendText(300, 743, 'Swift-XRT'));
  // legend 3
  g.push(box(189, 1239, 918, 111));
  const r1 = 1264, r2 = 1316;
  g.push(...crossLines(236, r1, C_OLIVE, true));
  g.push({ type: 'polygon', z: 101, shape: { points: plusPts(236, r1, 17) }, style: { fill: C_OLIVE, stroke: C_OLIVE, lineWidth: 1.5 } });
  g.push(legendText(300, r1, 'ASAS-SN', 'V'));
  g.push(...crossLines(236, r2, C_GREEN, true));
  g.push({ type: 'polygon', z: 101, shape: { points: xPts(236, r2, 17) }, style: { fill: C_GREEN, stroke: C_GREEN, lineWidth: 1.5 } });
  g.push(legendText(300, r2, 'ASAS-SN', 'g'));
  g.push(...crossLines(587, r1, C_PURPLE, true));
  g.push({ type: 'polygon', z: 101, shape: { points: [[587, r1 - 11], [594, r1], [587, r1 + 11], [580, r1]] }, style: { fill: C_PURPLE, stroke: C_PURPLE, lineWidth: 1.5 } });
  g.push(legendText(651, r1, 'ATOM', 'R'));
  g.push(...crossLines(587, r2, C_SKY, true));
  g.push({ type: 'rect', z: 101, shape: { x: 580, y: r2 - 7.5, width: 15, height: 15 }, style: { fill: C_SKY, stroke: C_SKY, lineWidth: 2 } });
  g.push(legendText(651, r2, 'ATOM', 'B'));
  g.push(...crossLines(890, r1, C_RED, false, 3));
  g.push({ type: 'circle', z: 101, shape: { cx: 890, cy: r1, r: 5 }, style: { fill: C_RED } });
  g.push(legendText(952, r1, 'ATLAS', 'R'));

  // axis titles
  const title = (x: number, y: number, text: string, rot = 0) => ({
    type: 'text', x, y, rotation: rot, z: 101,
    style: { text, fontSize: FS, fontFamily: FONT, fill: TXT, align: 'center', verticalAlign: 'middle' },
  });
  g.push(title(866, 55, 'UT date'));
  g.push(title(866, 1715, 'MJD'));
  g.push(title(70, 391, 'Flux > 100 MeV', Math.PI / 2));
  g.push(title(114, 391, '(10\u207B\u2077 ph cm\u207B\u00B2 s\u207B\u00B9)', Math.PI / 2));
  g.push(title(65, 914, 'Count rate 0.3-10 keV (s\u207B\u00B9)', Math.PI / 2));
  g.push(title(99, 1437, 'magnitude', Math.PI / 2));
  return g;
}

function buildOption() {
  const gridBase = { left: 170, width: 1392, show: true, borderColor: AXC, borderWidth: 2, backgroundColor: 'transparent', containLabel: false, outerBoundsMode: 'none' };
  return {
    animation: false,
    backgroundColor: '#ffffff',
    grid: [
      { ...gridBase, top: 176, height: 431 },
      { ...gridBase, top: 698, height: 432 },
      { ...gridBase, top: 1222, height: 431 },
    ],
    xAxis: [
      bottomX(0),
      {
        type: 'value', gridIndex: 0, position: 'top', min: X_MIN, max: X_MAX,
        axisLine: { show: false }, splitLine: { show: false },
        axisTick: { show: true, inside: true, length: 8, lineStyle: tickStyle, customValues: X_TICKS },
        axisLabel: {
          show: true, ...labelBase, margin: 56, rotate: -20, align: 'center', verticalAlign: 'middle',
          customValues: X_TICKS,
          formatter: (v: number) => { const i = X_TICKS.indexOf(v); return i >= 0 ? DATE_LABELS[i] : ''; },
        },
      },
      bottomX(1),
      bottomX(2),
    ],
    yAxis: [
      yAxisDef(0, FERMI_Y_MIN, FERMI_Y_MAX, FERMI_Y_TICKS, (v) => String(v)),
      yAxisDef(1, SWIFT_Y_MIN, SWIFT_Y_MAX, SWIFT_Y_TICKS, (v) => v.toFixed(2)),
      yAxisDef(2, MAG_MIN, MAG_MAX, MAG_TICKS, (v) => String(v), true),
    ],
    series: [
      eventLine(0, 0, 1.5),
      errBars(FERMI, 0, 0, C_RED, 3.5),
      markers(FERMI, 0, 0, 'circle', 10, C_RED, C_RED, 0),

      eventLine(2, 1, 0.15),
      errBars(SWIFT, 2, 1, C_ORANGE, 3),
      markers(SWIFT, 2, 1, 'rect', 12, C_ORANGE, C_ORANGE, 0),

      eventLine(3, 2, 15),
      errBars(ASASSN_V, 3, 2, C_OLIVE, 2.5),
      markers(ASASSN_V, 3, 2, PLUS_PATH, 17, C_OLIVE, C_OLIVE, 1.5),
      errBars(ASASSN_G, 3, 2, C_GREEN, 2.5),
      markers(ASASSN_G, 3, 2, X_PATH, 17, C_GREEN, C_GREEN, 1.5),
      errBars(ATOM_R, 3, 2, C_PURPLE, 2.5),
      markers(ATOM_R, 3, 2, 'diamond', [14, 22], C_PURPLE, C_PURPLE, 1.5),
      errBars(ATOM_B, 3, 2, C_SKY, 2.5),
      markers(ATOM_B, 3, 2, 'rect', 15, C_SKY, C_SKY, 2),
      errBars(ATLAS_R, 3, 2, C_RED, 2),
      markers(ATLAS_R, 3, 2, 'circle', 10, C_RED, C_RED, 0),
    ],
    graphic: buildGraphic(),
  };
}

export default function App() {
  const ref = useRef<HTMLDivElement>(null);
  useEffect(() => {
    if (!ref.current) return;
    const chart = echarts.init(ref.current, undefined, { renderer: 'svg' });
    chart.setOption(buildOption() as any);
    return () => chart.dispose();
  }, []);
  return <div ref={ref} style={{ position: 'absolute', left: 0, top: 0, width: 1600, height: 1777, background: '#fff' }} />;
}
